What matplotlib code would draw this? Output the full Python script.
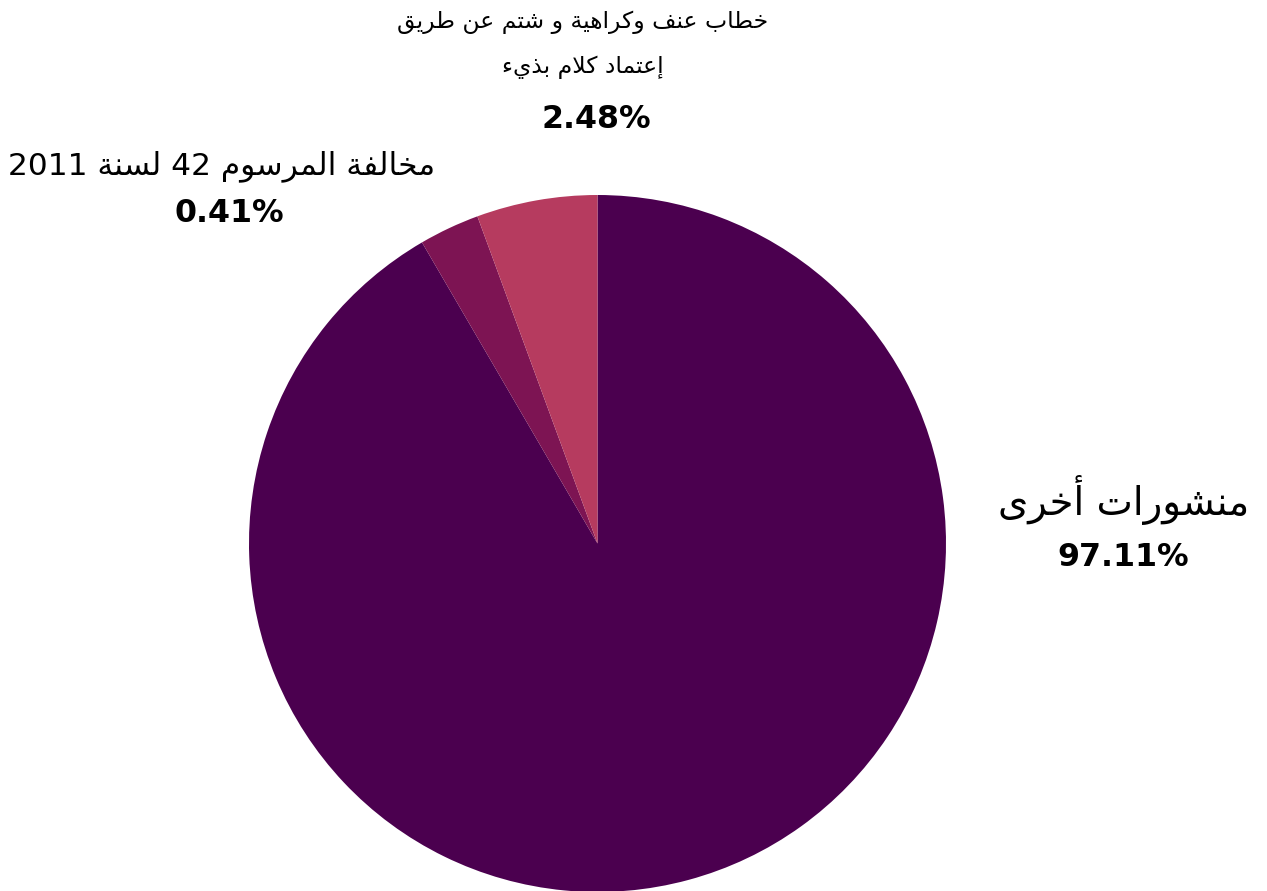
import re

import matplotlib
matplotlib.use("Agg")
import matplotlib.pyplot as plt

# slice order: clockwise from 12 o'clock
labels = ["منشورات أخرى", "مخالفة المرسوم 42 لسنة 2011", "خطاب عنف وكراهية و شتم عن طريق\nإعتماد كلام بذيء"]
pct_text = ["97.11%", "0.41%", "2.48%"]
# slice sizes as drawn in the source chart (the small ones are enlarged there)
slice_sizes = [91.6, 2.8, 5.6]
colors = ["#4B004F", "#7D1453", "#B63B5F"]

# --- minimal arabic shaping (DejaVu Sans has the presentation forms) ---
_letters = "ءآأؤإئابةتثجحخدذرزسشصضطظعغفقكلمنهوىي"
_nforms = [1, 2, 2, 2, 2, 4, 2, 4, 2, 4, 4, 4, 4, 4, 2, 2, 2, 2,
           4, 4, 4, 4, 4, 4, 4, 4, 4, 4, 4, 4, 4, 4, 4, 2, 2, 4]
FORMS = {}
_code = 0xFE80
for ch, k in zip(_letters, _nforms):
    FORMS[ch] = [chr(_code + j) for j in range(k)]
    _code += k
LAM_ALEF = {"آ": ("\uFEF5", "\uFEF6"), "أ": ("\uFEF7", "\uFEF8"),
            "إ": ("\uFEF9", "\uFEFA"), "ا": ("\uFEFB", "\uFEFC")}


def _joins(c):
    return c in FORMS and c != "ء"


def _dual(c):
    return c in FORMS and len(FORMS[c]) == 4


def shape(text):
    res = []
    n = len(text)
    i = 0
    while i < n:
        c = text[i]
        prev = text[i - 1] if i > 0 else ""
        prev_links = _dual(prev)
        if c == "ل" and i + 1 < n and text[i + 1] in LAM_ALEF:
            iso, fin = LAM_ALEF[text[i + 1]]
            res.append(fin if prev_links else iso)
            i += 2
            continue
        if c not in FORMS:
            res.append(c)
            i += 1
            continue
        f = FORMS[c]
        nxt = text[i + 1] if i + 1 < n else ""
        next_links = _dual(c) and _joins(nxt)
        prev_links = prev_links and _joins(c)
        if prev_links and next_links:
            res.append(f[3])
        elif prev_links:
            res.append(f[1])
        elif next_links:
            res.append(f[2])
        else:
            res.append(f[0])
        i += 1
    return "".join(res)


def rtl(text):
    lines = []
    for line in text.split("\n"):
        s = shape(line)[::-1]
        s = re.sub(r"[0-9.%]+", lambda m: m.group(0)[::-1], s)
        lines.append(s)
    return "\n".join(lines)


W, H = 1267, 891
fig = plt.figure(figsize=(W / 100, H / 100), dpi=100)

# pie: centre ~ (597, 543) px, radius ~ 348 px
cx, cy, r = 597.5, 543.5, 348.5
ax = fig.add_axes([(cx - r) / W, (H - cy - r) / H, 2 * r / W, 2 * r / H])
ax.pie(slice_sizes, colors=colors, startangle=90, counterclock=False,
       wedgeprops=dict(linewidth=0))
ax.set_xlim(-1, 1)
ax.set_ylim(-1, 1)
ax.axis("off")

ar_font = "DejaVu Sans"


def fx(x):
    return x / W


def fy(y):
    return 1 - y / H


# big slice label (right)
fig.text(fx(1124), fy(500), rtl(labels[0]), fontsize=27.8, family=ar_font,
         ha="center", va="center")
fig.text(fx(1123), fy(557), pct_text[0], fontsize=22.8, fontweight="bold",
         ha="center", va="center")

# small slice label (upper left)
fig.text(fx(222), fy(166), rtl(labels[1]), fontsize=22.5, family=ar_font,
         ha="center", va="center")
fig.text(fx(229), fy(213), pct_text[1], fontsize=22.8, fontweight="bold",
         ha="center", va="center")

# pink slice label (top)
fig.text(fx(583), fy(45), rtl(labels[2]), fontsize=16.9, family=ar_font,
         ha="center", va="center", linespacing=2.16)
fig.text(fx(596), fy(119), pct_text[2], fontsize=22.8, fontweight="bold",
         ha="center", va="center")

fig.savefig("out.png", dpi=100)
